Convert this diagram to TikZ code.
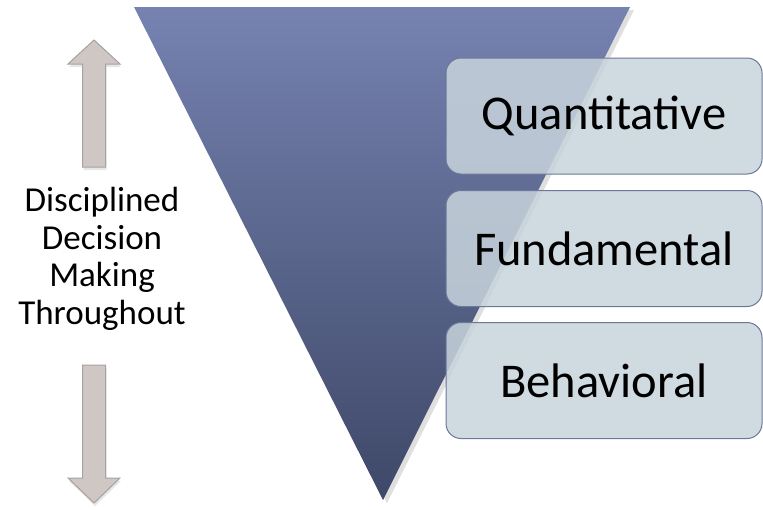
\documentclass[tikz,border=0pt]{standalone}
\usepackage{fontspec}
\setmainfont{Carlito}
\usetikzlibrary{shadows}
\definecolor{funneltop}{HTML}{7682B0}
\definecolor{funnelbot}{HTML}{3E4868}
\definecolor{boxfill}{HTML}{C8D4DC}
\definecolor{boxline}{HTML}{6C7898}
\definecolor{arrowfill}{HTML}{CFC7C4}
\definecolor{arrowline}{HTML}{A6A2A0}

\begin{document}
\begin{tikzpicture}[x=1pt, y=1pt,
    level/.style = {draw=boxline, line width=1pt, fill=boxfill, fill opacity=0.85,
                text opacity=1, rounded corners=15pt, minimum width=316pt,
                minimum height=116pt, inner sep=0pt, font=\fontsize{48.5}{56}\selectfont},
    bigarrow/.style = {draw=arrowline, line width=1pt, fill=arrowfill,
                drop shadow={opacity=0.2, shadow xshift=1pt, shadow yshift=-3pt}}
                    ]
        \useasboundingbox (0,0) rectangle (763,-509);
        \def\sw{11.5} % half width of the arrow shaft
        \def\hw{26}   % half width of the arrow head
        % funnel
        \coordinate (tl) at (134,-7);
        \coordinate (tr) at (630,-7);
        \coordinate (tip) at (383,-500);
        \path[drop shadow={opacity=0.25, shadow xshift=4pt, shadow yshift=-3pt},
            top color=funneltop, bottom color=funnelbot] (tl) -- (tr) -- (tip) -- cycle;
        % levels
        \foreach \y/\v/\t in {116/q/Quantitative, 248.5/f/Fundamental, 380.5/b/Behavioral}
            \node[level] at (604,-\y) (\v) {\t};
        % side label and arrows
        \node[align=center, font=\fontsize{35}{37.6}\selectfont] at (102,-259) (label)
            {Disciplined\\Decision\\Making\\Throughout};
        \coordinate (up) at (94,-40);
        \coordinate (down) at (94,-503);
        \draw[bigarrow] (up) -- ++(\hw,-24) -- ++(-\hw+\sw,0) -- ++(0,-103)
            -- ++(-2*\sw,0) -- ++(0,103) -- ++(-\hw+\sw,0) -- cycle;
        \draw[bigarrow] (down) -- ++(\hw,25) -- ++(-\hw+\sw,0) -- ++(0,113)
            -- ++(-2*\sw,0) -- ++(0,-113) -- ++(-\hw+\sw,0) -- cycle;
    \end{tikzpicture}
\end{document}
